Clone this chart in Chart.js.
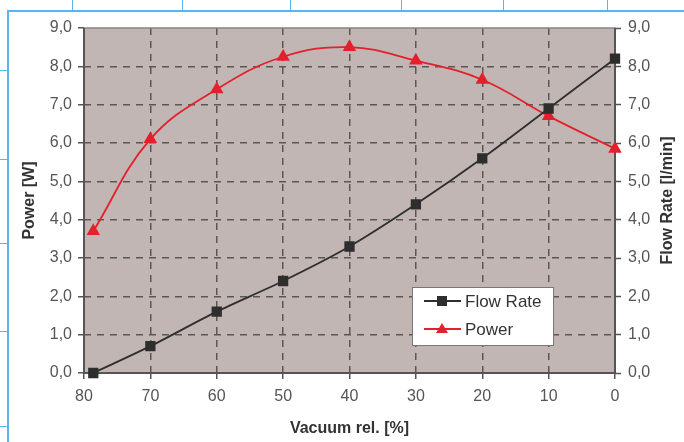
<!DOCTYPE html>
<html>
<head>
<meta charset="utf-8">
<script src="https://cdn.jsdelivr.net/npm/chart.js@4.4.1/dist/chart.umd.min.js"></script>
<style>
  html, body { margin: 0; padding: 0; background: #fff; }
  #wrap { position: relative; width: 684px; height: 442px; overflow: hidden; }
  canvas { position: absolute; left: 0; top: 0; }
  .fl { position: absolute; background: #5ab4ee; }
</style>
</head>
<body>
<div id="wrap">
  <canvas id="c" width="684" height="442"></canvas>
  <div class="fl" style="left:7px;top:10px;width:677px;height:2px"></div>
  <div class="fl" style="left:7px;top:10px;width:2px;height:432px"></div>
  <div class="fl" style="left:72px;top:0;width:1px;height:10px"></div>
  <div class="fl" style="left:182px;top:0;width:1px;height:10px"></div>
  <div class="fl" style="left:290px;top:0;width:1px;height:10px"></div>
  <div class="fl" style="left:401px;top:0;width:1px;height:10px"></div>
  <div class="fl" style="left:503px;top:0;width:1px;height:10px"></div>
  <div class="fl" style="left:607px;top:0;width:1px;height:10px"></div>
  <div class="fl" style="left:0;top:70px;width:7px;height:1px"></div>
  <div class="fl" style="left:0;top:159px;width:7px;height:1px"></div>
  <div class="fl" style="left:0;top:243px;width:7px;height:1px"></div>
  <div class="fl" style="left:0;top:331px;width:7px;height:1px"></div>
  <div class="fl" style="left:0;top:426px;width:7px;height:1px"></div>
</div>
<script>
// ---- data ----
const vacuum   = [78.6, 70, 60, 50, 40, 30, 20, 10, 0];
const flowRate = [0.0, 0.7, 1.6, 2.4, 3.3, 4.4, 5.6, 6.9, 8.2];
const power    = [3.7, 6.1, 7.4, 8.25, 8.5, 8.15, 7.65, 6.7, 5.85];
const xTitle = 'Vacuum rel. [%]';
const yLeftTitle = 'Power [W]';
const yRightTitle = 'Flow Rate [l/min]';
const seriesNames = ['Flow Rate', 'Power'];

const FONT = "'Liberation Sans', Arial, sans-serif";
const fmt = v => Number(v).toFixed(1).replace('.', ',');

const plotBg = {
  id: 'plotBg',
  beforeDraw(chart) {
    const {ctx, chartArea: a} = chart;
    ctx.save();
    ctx.fillStyle = '#c2b6b5';
    ctx.fillRect(a.left, a.top, a.right - a.left, a.bottom - a.top);
    ctx.restore();
  },
  beforeDatasetsDraw(chart) {
    const {ctx, chartArea: a} = chart;
    ctx.save();
    ctx.strokeStyle = '#8a8282';
    ctx.lineWidth = 1.5;
    ctx.strokeRect(a.left, a.top, a.right - a.left, a.bottom - a.top);
    ctx.strokeStyle = '#555';
    ctx.lineWidth = 2;
    ctx.beginPath();
    ctx.moveTo(a.left, a.top); ctx.lineTo(a.left, a.bottom); ctx.lineTo(a.right, a.bottom); ctx.lineTo(a.right, a.top);
    ctx.stroke();
    ctx.restore();
  }
};

const extras = {
  id: 'extras',
  afterDraw(chart) {
    const {ctx, chartArea: a} = chart;
    ctx.save();
    ctx.translate(668, (a.top + a.bottom) / 2);
    ctx.rotate(-Math.PI / 2);
    ctx.font = 'bold 16px ' + FONT;
    ctx.fillStyle = '#333';
    ctx.textAlign = 'center';
    ctx.textBaseline = 'middle';
    ctx.fillText(yRightTitle, 0, 0);
    ctx.restore();

    const bx = 412, by = 287, bw = 141, bh = 58;
    ctx.save();
    ctx.fillStyle = '#fff';
    ctx.fillRect(bx, by, bw, bh);
    ctx.strokeStyle = '#777';
    ctx.lineWidth = 1;
    ctx.strokeRect(bx + 0.5, by + 0.5, bw, bh);
    const rows = [
      {y: 301, color: '#2e2e2e', style: 'rect', name: chart.data.datasets[0].label},
      {y: 329, color: '#e3202b', style: 'triangle', name: chart.data.datasets[1].label}
    ];
    rows.forEach(r => {
      ctx.strokeStyle = r.color;
      ctx.lineWidth = 1.8;
      ctx.beginPath(); ctx.moveTo(424, r.y); ctx.lineTo(461, r.y); ctx.stroke();
      ctx.fillStyle = r.color;
      if (r.style === 'rect') {
        ctx.fillRect(437, r.y - 5, 10, 10);
      } else {
        ctx.beginPath();
        ctx.moveTo(442, r.y - 6); ctx.lineTo(448, r.y + 4); ctx.lineTo(436, r.y + 4); ctx.closePath(); ctx.fill();
      }
      ctx.fillStyle = '#333';
      ctx.font = '17px ' + FONT;
      ctx.textAlign = 'left';
      ctx.textBaseline = 'middle';
      ctx.fillText(r.name, 465, r.y + 1);
    });
    ctx.restore();
  }
};

new Chart(document.getElementById('c'), {
  type: 'line',
  data: {
    datasets: [
      {
        label: seriesNames[0],
        data: vacuum.map((x, i) => ({x, y: flowRate[i]})),
        yAxisID: 'y2',
        borderColor: '#2e2e2e',
        backgroundColor: '#2e2e2e',
        borderWidth: 1.8,
        pointStyle: 'rect',
        pointRadius: 6,
        pointHoverRadius: 6,
        tension: 0.3,
        clip: false
      },
      {
        label: seriesNames[1],
        data: vacuum.map((x, i) => ({x, y: power[i]})),
        yAxisID: 'y',
        borderColor: '#e3202b',
        backgroundColor: '#e3202b',
        borderWidth: 1.8,
        pointStyle: 'triangle',
        pointRadius: 6,
        pointHoverRadius: 6,
        tension: 0.4,
        clip: false
      }
    ]
  },
  options: {
    responsive: false,
    animation: false,
    devicePixelRatio: 1,
    layout: { padding: { top: 28, left: 0, right: 0, bottom: 0 } },
    plugins: { legend: { display: false }, tooltip: { enabled: false } },
    scales: {
      x: {
        type: 'linear',
        reverse: true,
        min: 0, max: 80,
        ticks: { stepSize: 10, color: '#555', font: { family: FONT, size: 16 }, padding: 8, maxRotation: 0 },
        grid: {
          color: ctx => (ctx.tick && (ctx.tick.value === 0 || ctx.tick.value === 80)) ? 'rgba(0,0,0,0)' : '#5a5656',
          lineWidth: 1.5,
          tickLength: 6,
          tickColor: '#555',
          tickWidth: 1.5,
          tickBorderDash: []
        },
        border: { display: false, dash: [7, 6] },
        title: { display: true, text: xTitle, color: '#333', font: { family: FONT, size: 16, weight: 'bold' }, padding: { top: 6 } },
        afterFit: s => { s.height = 69; }
      },
      y: {
        position: 'left',
        min: 0, max: 9,
        ticks: { stepSize: 1, color: '#555', font: { family: FONT, size: 16 }, padding: 6, callback: v => fmt(v) },
        grid: {
          color: ctx => (ctx.tick && (ctx.tick.value === 0 || ctx.tick.value === 9)) ? 'rgba(0,0,0,0)' : '#5a5656',
          lineWidth: 1.5,
          tickLength: 6,
          tickColor: '#555',
          tickWidth: 1.5,
          tickBorderDash: []
        },
        border: { display: false, dash: [7, 6] },
        title: { display: true, text: yLeftTitle, color: '#333', font: { family: FONT, size: 16, weight: 'bold' }, padding: { top: 20, bottom: 0 } },
        afterFit: s => { s.width = 84; }
      },
      y2: {
        position: 'right',
        min: 0, max: 9,
        ticks: { stepSize: 1, color: '#555', font: { family: FONT, size: 16 }, padding: 7, callback: v => fmt(v) },
        grid: { drawOnChartArea: false, tickLength: 6, tickColor: '#555', tickWidth: 1.5, color: '#555' },
        border: { display: false },
        afterFit: s => { s.width = 69; }
      }
    }
  },
  plugins: [plotBg, extras]
});
</script>
</body>
</html>
